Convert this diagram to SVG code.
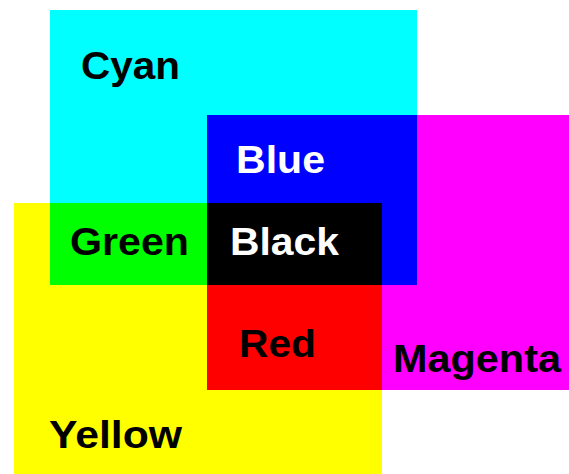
<svg xmlns="http://www.w3.org/2000/svg" width="569" height="474" viewBox="0 0 569 474">
<style>
text{font-family:"Liberation Sans",Arial,sans-serif;font-weight:bold;font-size:38px}
.k{fill:#000}.w{fill:#fff}
</style>
<rect width="569" height="474" fill="#fff"/>
<g id="cyan"><rect x="50" y="10" width="367" height="275" fill="#00ffff"/></g>
<g id="magenta"><rect x="207" y="115" width="362" height="275" fill="#ff00ff"/></g>
<g id="yellow"><rect x="14" y="203" width="368" height="271" fill="#ffff00"/></g>
<g id="blue"><rect x="207" y="115" width="210" height="170" fill="#0000ff"/></g>
<g id="green"><rect x="50" y="203" width="157" height="82" fill="#00ff00"/></g>
<g id="red"><rect x="207" y="285" width="175" height="105" fill="#ff0000"/></g>
<g id="black"><rect x="207" y="203" width="175" height="82" fill="#000"/></g>
<g id="labels">
<text class="k" x="81" y="79" textLength="99" lengthAdjust="spacingAndGlyphs">Cyan</text>
<text class="w" x="236" y="173" textLength="89" lengthAdjust="spacingAndGlyphs">Blue</text>
<text class="k" x="70" y="255" textLength="119" lengthAdjust="spacingAndGlyphs">Green</text>
<text class="w" x="230" y="255" textLength="109" lengthAdjust="spacingAndGlyphs">Black</text>
<text class="k" x="239" y="357" textLength="77" lengthAdjust="spacingAndGlyphs">Red</text>
<text class="k" x="393" y="372" textLength="168" lengthAdjust="spacingAndGlyphs">Magenta</text>
<text class="k" x="49" y="448" textLength="133" lengthAdjust="spacingAndGlyphs">Yellow</text>
</g>
</svg>
